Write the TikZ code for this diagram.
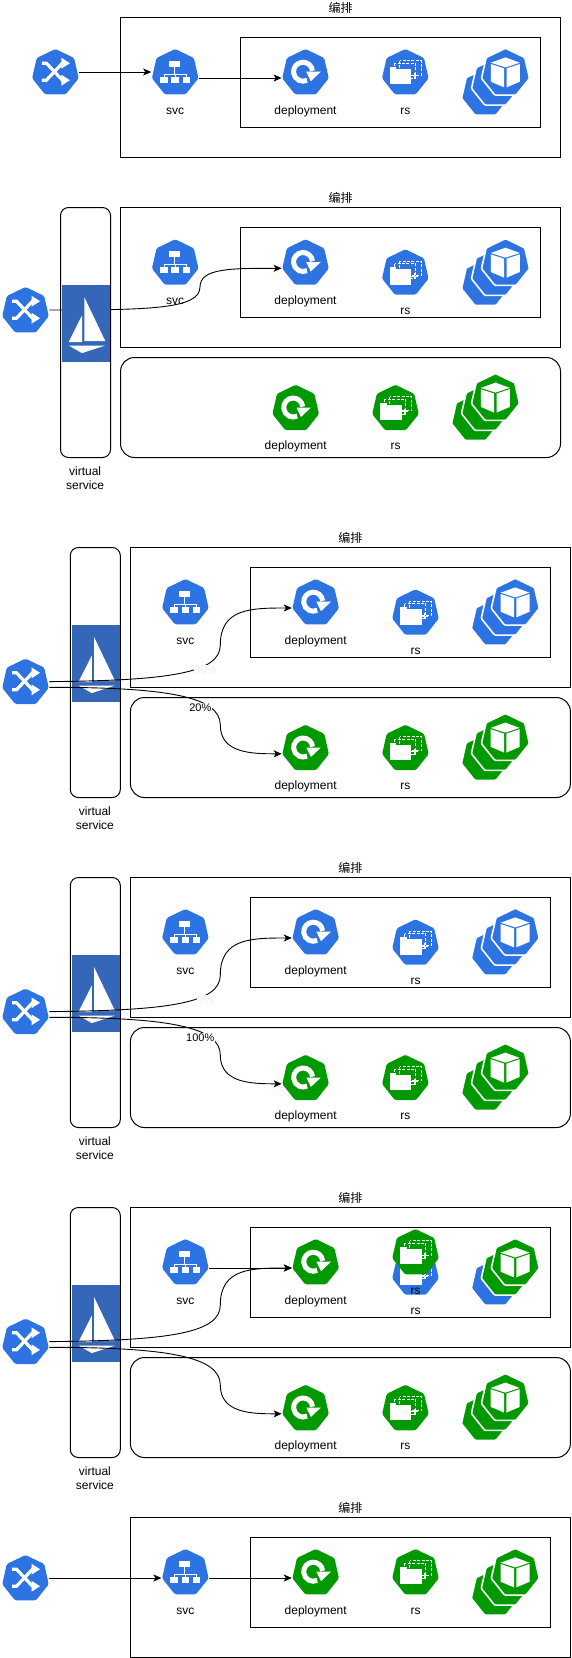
\documentclass[tikz,border=0pt]{standalone}
\usepackage{fontspec}
\setmainfont{Liberation Sans}
\newfontfamily\cjk{Noto Sans CJK SC}
\usetikzlibrary{arrows.meta,shapes.geometric}
\definecolor{kblue}{RGB}{45,116,226}
\definecolor{kgreen}{RGB}{0,153,0}
\definecolor{isto}{RGB}{52,103,184}
\definecolor{pale}{RGB}{238,238,238}

\tikzset{
	hept/.style={regular polygon, regular polygon sides=7, minimum size=47.8pt, inner sep=0pt, outer sep=0pt, rounded corners=1.5pt, fill=#1},
	stacked/.style={hept=#1, minimum size=49.3pt, draw=white, line width=1.6pt, rounded corners=1pt},
	glyph/.style={draw=white, line join=miter},
	frame/.style={draw=black, line width=1pt, inner sep=0pt, outer sep=0pt, anchor=north west},
	lbl/.style={font=\fontsize{12}{14}\selectfont, text height=9pt, text depth=3pt, inner sep=0pt, align=center},
	pct/.style={font=\fontsize{11}{13}\selectfont, fill=white, inner sep=0.5pt},
	conn/.style={draw=black, line width=0.9pt, -{Stealth[length=8pt,width=7pt,inset=2pt]}}
}

\begin{document}
\begin{tikzpicture}[x=1pt, y=-1pt]

	\useasboundingbox (0,0) rectangle (571,1658);

	% icones : nom, x, y, couleur
	\newcommand{\mkswitch}[4]{
		\node[hept=#4] (#1) at (#2,#3+1.2) {};
		\coordinate (#1o) at ([shift={(1.7,-0.9)}]#1.east);
		\coordinate (#1p) at ([shift={(1.7,4.8)}]#1.east);
		\begin{scope}[shift={(#2,#3)}]
			\draw[glyph, line width=3.2pt] (-13.5,8.5) -- (-9,8.5) -- (7,-8.5) -- (9,-8.5);
			\draw[glyph, line width=3.2pt] (-13.5,-8.5) -- (-9,-8.5) -- (7,8.5) -- (9,8.5);
			\fill[white] (6,-14) -- (14.5,-8.5) -- (6,-3) -- cycle;
			\fill[white] (6,3) -- (14.5,8.5) -- (6,14) -- cycle;
		\end{scope}
	}
	\newcommand{\mksvc}[4]{
		\node[hept=#4] (#1) at (#2,#3+1.2) {};
		\coordinate (#1i) at ([shift={(-1.9,-0.9)}]#1.west);
		\coordinate (#1j) at ([shift={(-1.9,5.1)}]#1.west);
		\coordinate (#1o) at ([shift={(1.8,5.1)}]#1.east);
		\begin{scope}[shift={(#2,#3)}]
			\fill[white] (-6.5,-11) rectangle (4.5,-5);
			\foreach \bx in {-15,-3.8,7.4} \fill[white] (\bx,5) rectangle (\bx+7.6,11);
			\draw[glyph, line width=0.9pt] (-1,-5) -- (-1,2.3) (-11.2,5) -- (-11.2,2.3) -- (11.2,2.3) -- (11.2,5) (0,2.3) -- (0,5);
		\end{scope}
		\node[lbl] (#1t) at (#2,#3+39.3) {svc};
	}
	\newcommand{\mkdeploy}[4]{
		\node[hept=#4] (#1) at (#2,#3+1.2) {};
		\coordinate (#1i) at ([shift={(-1.8,5.1)}]#1.west);
		\begin{scope}[shift={(#2,#3)}]
			\draw[glyph, line width=5pt] (6.96,-0.83) arc[start angle=5, end angle=295, radius=9.5pt];
			\fill[white] (0.7,0) -- (15.3,0) -- (5.3,9.5) -- cycle;
		\end{scope}
		\node[lbl] (#1t) at (#2,#3+39.3) {deployment};
	}
	\newcommand{\mkrs}[4]{
		\node[hept=#4] (#1) at (#2,#3+1.2) {};
		\begin{scope}[shift={(#2,#3)}]
			\draw[glyph, line width=1pt, dash pattern=on 3pt off 1.4pt] (-5.7,-11) rectangle (16,3.3);
			\draw[glyph, line width=1pt, dash pattern=on 3pt off 1.4pt] (-10.7,-8.3) rectangle (10.3,6.7);
			\fill[white] (-15.7,-2.7) rectangle (6,12.7);
			\fill[white] (-15.7,-5) rectangle (-9,-2.7);
			\draw[glyph, line width=1pt] (6,4) -- (12.5,4) (9.3,1) -- (9.3,7);
		\end{scope}
		\node[lbl] (#1t) at (#2,#3+39.3) {rs};
	}
	% pile de pods : nom, x, y, couleurs de bas en haut
	\newcommand{\mkpods}[6]{
		\node[stacked=#4] (#1a) at (#2-20,#3+21.2) {};
		\node[stacked=#5] (#1b) at (#2-10,#3+11.2) {};
		\node[stacked=#6] (#1) at (#2,#3+1.2) {};
		\begin{scope}[shift={(#2,#3)}]
			\fill[white] (-14.7,-9) -- (0,-14.3) -- (14.3,-9) -- (0,-4.3) -- cycle;
			\fill[white] (-14.7,-7.7) -- (-1.3,-3.3) -- (-1.3,15.7) -- (-14.7,10) -- cycle;
			\fill[white] (1,-3.3) -- (14.3,-7.7) -- (14.3,10) -- (1,15.7) -- cycle;
		\end{scope}
	}

	% cadres
	\newcommand{\mkframe}[3]{
		\node[frame, minimum width=440pt, minimum height=140pt] (outer#1) at (#2,#3) {};
		\node[frame, minimum width=300pt, minimum height=90pt] (inner#1) at (#2+120,#3+20) {};
		\node[lbl] (title#1) at (#2+220,#3-8.5) {\cjk 编排};
	}
	\newcommand{\mkgreen}[3]{
		\node[frame, rounded corners=14pt, minimum width=440pt, minimum height=100pt] (box#1) at (#2,#3) {};
		\mkdeploy{dep#1g}{#2+175.2}{#3+50}{kgreen}
		\mkrs{rs#1g}{#2+275}{#3+50}{kgreen}
		\mkpods{pods#1g}{#2+375}{#3+39.4}{kgreen}{kgreen}{kgreen}
	}
	\newcommand{\mkvs}[3]{
		\node[frame, rounded corners=8pt, minimum width=50pt, minimum height=250pt] (vs#1) at (#2,#3) {};
		\node[lbl, text height=, text depth=, baseline] (vst#1) at (#2+24.6,#3+271) {virtual\\service};
		\node[fill=isto, inner sep=0pt, outer sep=0pt, minimum width=48.3pt, minimum height=76.7pt] (ist#1) at (#2+25.8,#3+116.3) {};
		\begin{scope}[shift={(#2+25.8,#3+116.3)}]
			\fill[white] (-2,-26.7) -- (19,17.3) -- (-2,17.3) -- cycle;
			\fill[white] (-4.3,-8.3) -- (-4.3,18.3) -- (-17.7,18.3) -- cycle;
			\fill[white] (-17.7,21.7) -- (19,21.7) -- (-4.3,29.3) -- cycle;
		\end{scope}
	}
	\newcommand{\mkcurves}[2]{
		\coordinate (bend#1a) at (220.3,645+#2);
		\coordinate (bend#1b) at (220.3,725+#2);
		\draw[conn] (lb#1o) .. controls +(120,-1) and +(0,28) .. (bend#1a) .. controls +(0,-37) and +(-40,0) .. (dep#1i);
		\draw[conn] (lb#1p) .. controls +(120,0) and +(0,-28) .. (bend#1b) .. controls +(0,28.3) and +(-30,0) .. (dep#1gi);
	}

	% service seul
	\mkframe{A}{120.5}{17.5}
	\mkswitch{lbA}{55.4}{71.7}{kblue}
	\mksvc{svcA}{175.2}{71.7}{kblue}
	\mkdeploy{depA}{305.5}{71.7}{kblue}
	\mkrs{rsA}{405.3}{71.7}{kblue}
	\mkpods{podsA}{505.5}{71.7}{kblue}{kblue}{kblue}
	\draw[conn] (lbAo) -- (svcAi);
	\draw[conn] (svcAo) -- (depAi);

	% virtual service devant
	\mkframe{B}{120.5}{207.5}
	\mkgreen{B}{120.5}{357.5}
	\mkswitch{lbB}{25.5}{309.7}{kblue}
	\mksvc{svcB}{175.2}{262}{kblue}
	\mkdeploy{depB}{305.5}{262}{kblue}
	\mkrs{rsB}{405.3}{272}{kblue}
	\mkpods{podsB}{505.5}{262}{kblue}{kblue}{kblue}
	\coordinate (bendB) at (200,287);
	\draw[conn] (lbBo) .. controls +(100,0) and +(0,22) .. (bendB) .. controls +(0,-19) and +(-50,0) .. (depBi);
	\mkvs{B}{60.5}{207.5}

	% repartition du trafic
	\foreach \p/\dy/\ta/\tb in {C/0/80\%/20\%,D/330/0\%/100\%}{
		\mkframe{\p}{130.4}{547.5+\dy}
		\mkgreen{\p}{130.4}{697.5+\dy}
		\mkswitch{lb\p}{25.5}{681.3+\dy}{kblue}
		\mksvc{svc\p}{185.4}{601.7+\dy}{kblue}
		\mkdeploy{dep\p}{315.7}{601.7+\dy}{kblue}
		\mkrs{rs\p}{415.5}{612+\dy}{kblue}
		\mkpods{pods\p}{515.3}{601.7+\dy}{kblue}{kblue}{kblue}
		\mkvs{\p}{70.3}{547.5+\dy}
		\mkcurves{\p}{\dy}
		\node[pct, text=pale] (pcta\p) at (205.5,669.3+\dy) {\ta};
		\node[pct] (pctb\p) at (200.3,707.3+\dy) {\tb};
	}

	% bascule
	\mkframe{E}{130.4}{1207.5}
	\mkgreen{E}{130.4}{1357.5}
	\mkswitch{lbE}{25.5}{1341.3}{kblue}
	\mksvc{svcE}{185.4}{1261.7}{kblue}
	\mkdeploy{depE}{315.7}{1261.7}{kgreen}
	\mkrs{rsE}{415.5}{1272}{kblue}
	\mkrs{rsEn}{415.5}{1251.7}{kgreen}
	\mkpods{podsE}{515.3}{1261.7}{kblue}{kgreen}{kgreen}
	\mkvs{E}{70.3}{1207.5}
	\mkcurves{E}{660}
	\draw[conn] (svcEo) -- (depEi);

	% fin
	\mkframe{F}{130.4}{1517.5}
	\mkswitch{lbF}{25.5}{1577.7}{kblue}
	\mksvc{svcF}{185.4}{1571.7}{kblue}
	\mkdeploy{depF}{315.7}{1571.7}{kgreen}
	\mkrs{rsF}{415.5}{1571.7}{kgreen}
	\mkpods{podsF}{515.3}{1571.7}{kgreen}{kgreen}{kgreen}
	\draw[conn] (lbFo) -- (svcFj);
	\draw[conn] (svcFo) -- (depFi);

\end{tikzpicture}
\end{document}
